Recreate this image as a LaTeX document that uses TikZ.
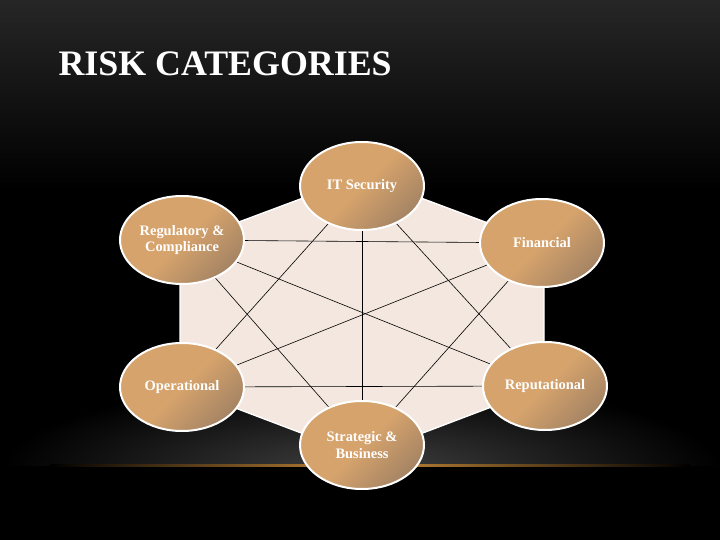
\documentclass[tikz,border=0pt]{standalone}
\usepackage{fontspec}
\setmainfont{Liberation Serif}
\usetikzlibrary{shapes.geometric,backgrounds}
\definecolor{risktan}{RGB}{214,163,108}
\definecolor{riskdark}{RGB}{165,132,100}
\definecolor{hexfill}{RGB}{243,231,223}
\definecolor{bgtop}{RGB}{38,38,38}
\definecolor{glow}{RGB}{200,138,56}
\tikzstyle{risk} = [ellipse, draw = white, line width = 2bp, top color = risktan, bottom color = riskdark, middle color = risktan, shading angle = 45, minimum width = 124bp, minimum height = 88bp, inner sep = 0pt, text = white, font = \bfseries\fontsize{14.5}{16.5}\selectfont, align = center]
\tikzstyle{link} = [black, line width = 0.6bp]

\begin{document}
\begin{tikzpicture}[x = 1bp, y = -1bp]
        \useasboundingbox (0, 0) rectangle (720, 540);
        \node (title) at (55, 76) [anchor = base west, text = white, font = \bfseries\fontsize{36}{40}\selectfont] {RISK CATEGORIES};
        \node (it) at (362, 186) [risk] {IT Security};
        \node (fin) at (542, 243) [risk] {Financial};
        \node (rep) at (545, 386) [risk] {Reputational};
        \node (strat) at (362, 445) [risk] {Strategic \&\\ Business};
        \node (ops) at (182, 387) [risk] {Operational};
        \node (reg) at (182, 240) [risk] {Regulatory \&\\ Compliance};
        \begin{scope}[on background layer]
            % backdrop
            \fill [black] (0, 0) rectangle (720, 540);
            \shade [top color = bgtop, bottom color = black] (0, 0) rectangle (720, 190);
            \begin{scope}
                \clip (0, 390) rectangle (720, 465);
                \shade [inner color = gray!50!black, outer color = black] (362, 470) ellipse (360 and 90);
            \end{scope}
            \shade [left color = black, right color = black, middle color = glow] (50, 464.5) rectangle (690, 466.5);
            % hexagon
            \filldraw [fill = hexfill, draw = white, line width = 1.4bp] (362, 176) -- (544, 244) -- (544, 387) -- (362, 456) -- (180, 387) -- (180, 244) -- cycle;
            \draw [link] (reg) -- (fin);
            \draw [link] (ops) -- (rep);
            \draw [link] (it) -- (strat);
            \draw [link] (reg) -- (rep);
            \draw [link] (fin) -- (ops);
            \draw [link] (it) -- (ops);
            \draw [link] (it) -- (rep);
            \draw [link] (strat) -- (reg);
            \draw [link] (strat) -- (fin);
        \end{scope}
    \end{tikzpicture}
\end{document}
